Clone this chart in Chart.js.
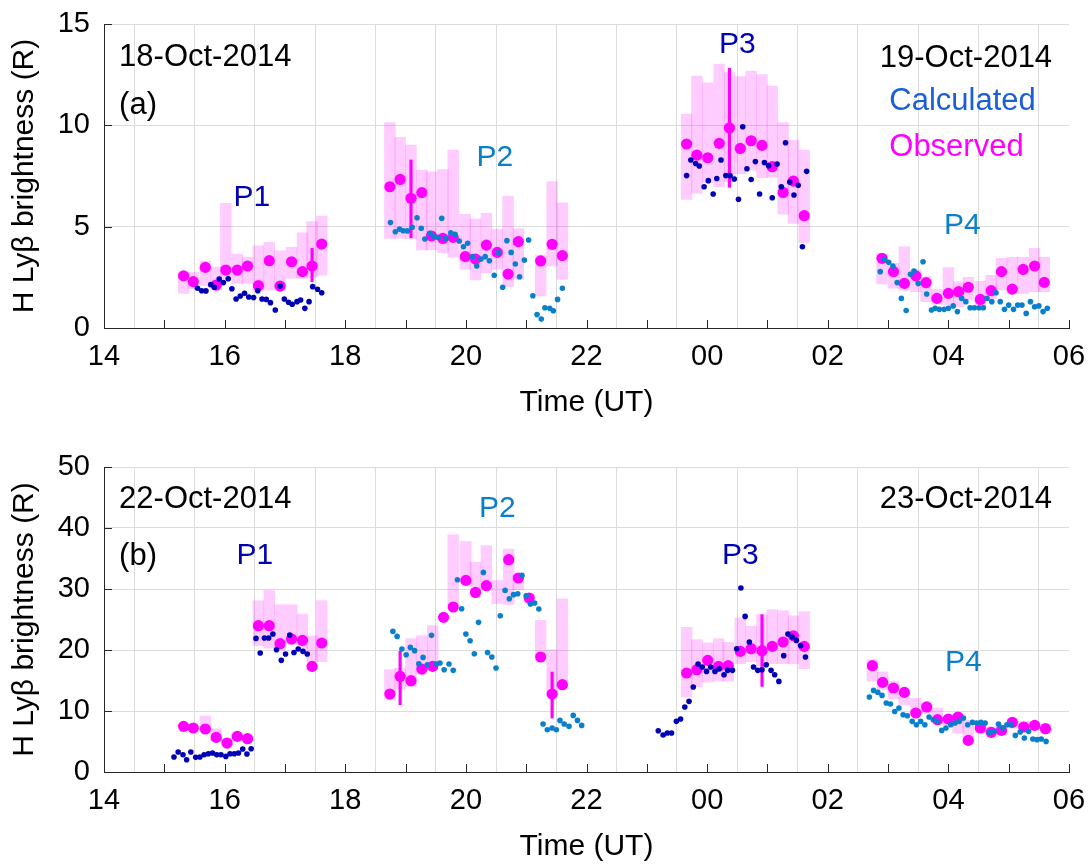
<!DOCTYPE html>
<html>
<head>
<meta charset="utf-8">
<script src="https://cdn.jsdelivr.net/npm/chart.js@4"></script>
<style>
  body { margin: 0; background: #fff; }
  .panel { position: absolute; left: 0; width: 1090px; height: 432px; }
</style>
</head>
<body>
<div class="panel" style="top:0"><canvas id="chart-a" width="1090" height="432"></canvas></div>
<div class="panel" style="top:433px"><canvas id="chart-b" width="1090" height="432"></canvas></div>
<script>
// ===== DATA (time in hours, 24+ = next day) =====

// Panel (a) 18/19-Oct-2014
const a1ObsT = [15.32, 15.48, 15.68, 15.86, 16.02, 16.21, 16.38, 16.56, 16.74, 16.92, 17.11, 17.29, 17.45, 17.61];
const a1ObsV = [2.57, 2.29, 2.99, 2.12, 2.86, 2.86, 3.06, 2.09, 3.32, 2.07, 3.27, 2.78, 3.06, 4.14];
const a1Lo = [1.71, 1.95, 2.1, 1.87, 2.4, 2.2, 2.2, 1.87, 1.87, 1.87, 2.45, 2.45, 2.5, 2.61];
const a1Hi = [2.78, 2.75, 3.3, 3.0, 6.15, 3.65, 3.49, 4.06, 4.23, 3.81, 3.98, 4.70, 5.25, 5.53];
const a1CalcT = [15.55, 15.62, 15.69, 15.77, 15.83, 15.91, 15.98, 16.06, 16.12, 16.19, 16.26, 16.33, 16.40, 16.48, 16.55,
  16.62, 16.69, 16.76, 16.84, 16.92, 16.99, 17.06, 17.12, 17.20, 17.26, 17.33, 17.40, 17.46, 17.54, 17.61];
const a1CalcV = [1.96, 1.84, 1.83, 2.14, 2.01, 2.42, 2.24, 2.43, 1.94, 1.43, 1.58, 1.71, 1.53, 1.50, 1.84,
  1.43, 1.41, 1.25, 0.89, 2.07, 1.43, 1.27, 1.17, 1.30, 1.38, 0.97, 1.30, 2.04, 1.91, 1.74];

const a2ObsT = [18.74, 18.91, 19.09, 19.27, 19.43, 19.62, 19.79, 19.99, 20.16, 20.34, 20.52, 20.70, 20.87, 21.24, 21.43, 21.60];
const a2ObsV = [6.97, 7.33, 6.40, 6.68, 4.54, 4.42, 4.47, 3.52, 3.40, 4.09, 3.73, 2.66, 4.26, 3.31, 4.13, 3.57];
const a2Lo = [4.42, 4.42, 4.4, 3.85, 3.85, 3.72, 3.49, 2.89, 2.37, 2.73, 2.9, 2.04, 2.4, 1.58, 3.06, 2.40];
const a2Hi = [10.13, 9.41, 9.03, 7.79, 7.71, 7.82, 8.78, 5.61, 5.38, 5.66, 4.87, 6.51, 4.9, 3.6, 7.22, 6.18];
const a2CalcT = [18.75, 18.83, 18.90, 18.96, 19.03, 19.11, 19.19, 19.26, 19.32, 19.40, 19.46, 19.54, 19.60, 19.67,
  19.75, 19.82, 19.89, 19.96, 20.03, 20.11, 20.18, 20.25, 20.32, 20.39, 20.47, 20.54, 20.61, 20.68, 20.75, 20.82,
  20.89, 20.97, 21.04, 21.11, 21.18, 21.25, 21.31, 21.39, 21.45, 21.52, 21.60];
const a2CalcV = [5.20, 4.75, 4.88, 4.80, 4.79, 4.97, 5.44, 4.92, 4.39, 4.67, 4.54, 4.47, 5.41, 4.42,
  4.70, 4.62, 4.29, 4.01, 4.18, 3.52, 3.06, 3.40, 3.52, 3.32, 2.60, 3.72, 2.01, 4.31, 3.73, 3.16,
  2.53, 3.35, 4.34, 1.59, 0.66, 0.44, 1.00, 0.97, 0.85, 1.41, 1.96];

const a3ObsT = [23.66, 23.83, 24.01, 24.20, 24.37, 24.55, 24.73, 24.91, 25.08, 25.26, 25.43, 25.61];
const a3ObsV = [9.08, 8.53, 8.40, 9.11, 9.87, 8.86, 9.24, 9.01, 7.96, 6.69, 7.25, 5.54];
const a3Lo = [6.35, 6.64, 7.17, 6.97, 7.22, 7.60, 7.79, 7.42, 7.43, 5.62, 5.16, 4.21];
const a3Hi = [10.56, 12.43, 12.10, 13.02, 12.60, 12.40, 12.68, 12.5, 11.94, 10.13, 9.27, 8.78];
const a3CalcT = [23.66, 23.73, 23.81, 23.87, 23.95, 24.02, 24.10, 24.16, 24.23, 24.31, 24.38, 24.45, 24.52, 24.59,
  24.66, 24.73, 24.80, 24.87, 24.95, 25.02, 25.08, 25.16, 25.23, 25.30, 25.37, 25.44, 25.51, 25.58, 25.65];
const a3CalcV = [7.52, 8.29, 8.12, 7.99, 6.97, 7.27, 6.61, 7.38, 8.29, 7.52, 7.52, 7.35, 6.35, 9.93,
  7.86, 7.33, 8.21, 6.61, 8.16, 8.01, 6.43, 8.09, 6.97, 9.14, 7.20, 6.56, 7.04, 4.01, 7.73];

const a4ObsT = [26.90, 27.09, 27.27, 27.46, 27.63, 27.81, 28.00, 28.17, 28.33, 28.53, 28.71, 28.88, 29.06, 29.24, 29.43, 29.59];
const a4ObsV = [3.44, 2.78, 2.20, 2.57, 2.24, 1.46, 1.71, 1.79, 2.01, 1.41, 1.84, 2.78, 1.92, 2.89, 3.06, 2.25];
const a4Lo = [2.17, 1.96, 1.87, 1.79, 1.30, 1.18, 1.13, 1.05, 1.4, 1.05, 1.45, 1.87, 1.7, 1.7, 1.79, 1.79];
const a4Hi = [3.65, 3.19, 4.01, 2.86, 2.53, 1.91, 2.98, 2.28, 2.5, 2.3, 2.6, 3.44, 3.49, 3.49, 3.93, 3.49];
const a4CalcT = [26.87, 26.94, 27.01, 27.08, 27.15, 27.22, 27.30, 27.37, 27.43, 27.50, 27.58, 27.64, 27.72, 27.78,
  27.85, 27.93, 28.00, 28.08, 28.15, 28.22, 28.29, 28.36, 28.43, 28.51, 28.58, 28.64, 28.72, 28.79, 28.86, 28.93,
  29.00, 29.08, 29.15, 29.22, 29.29, 29.36, 29.43, 29.50, 29.57, 29.64];
const a4CalcV = [2.78, 3.39, 3.24, 3.06, 2.24, 1.46, 0.86, 2.65, 2.81, 2.20, 3.27, 1.68, 0.89, 0.97,
  0.92, 0.92, 0.97, 1.09, 0.81, 1.46, 1.30, 1.00, 1.00, 1.00, 1.00, 1.46, 1.30, 1.74, 1.30, 0.92,
  1.13, 0.92, 1.13, 1.13, 0.72, 1.30, 1.05, 1.09, 0.81, 0.97];

const aErrT = [17.45, 19.09, 24.37];
const aErrLo = [2.29, 4.45, 6.94];
const aErrHi = [3.93, 8.29, 12.81];

// Panel (b) 22/23-Oct-2014
const b1ObsT = [15.32, 15.48, 15.68, 15.86, 16.04, 16.21, 16.38, 16.56, 16.74, 16.92, 17.11, 17.29, 17.45, 17.61];
const b1ObsV = [7.48, 7.21, 7.05, 5.67, 4.75, 5.84, 5.46, 23.98, 23.98, 21.03, 21.8, 21.58, 17.31, 21.15];
const b1Lo = [7.0, 6.9, 6.6, 5.1, 4.3, 5.4, 5.0, 20.7, 20.3, 20.0, 20.9, 20.2, 18.1, 18.1];
const b1Hi = [7.9, 7.6, 9.2, 7.1, 5.4, 6.3, 5.9, 28.08, 29.77, 27.43, 27.43, 25.9, 22.3, 28.1];
const b1CalcT = [15.16, 15.23, 15.31, 15.37, 15.44, 15.52, 15.59, 15.66, 15.73, 15.80, 15.87, 15.94, 16.02, 16.09,
  16.16, 16.23, 16.30, 16.37, 16.44,
  16.52, 16.59, 16.66, 16.73, 16.80, 16.86, 16.94, 17.01, 17.08, 17.15, 17.22, 17.30, 17.37];
const b1CalcV = [2.46, 3.28, 2.84, 2.02, 3.28, 2.40, 2.46, 2.84, 3.00, 3.11, 2.84, 2.84, 2.56, 3.00,
  3.00, 3.11, 3.77, 2.95, 3.82,
  21.9, 19.5, 21.97, 21.97, 22.62, 20.05, 18.3, 19.34, 22.46, 19.6, 20.16, 19.77, 19.34];

const b2ObsT = [18.74, 18.91, 19.09, 19.27, 19.45, 19.63, 19.79, 20.00, 20.16, 20.34, 20.52, 20.71, 20.87, 21.05, 21.24, 21.43, 21.60];
const b2ObsV = [12.79, 15.68, 14.97, 16.88, 17.31, 25.35, 27.05, 31.41, 29.44, 30.54, null, 34.8, 31.8, 28.52, 18.85, 12.79, 14.31];
const b2Lo = [11.85, 13.5, 14.0, 16.2, 17.3, null, 27.15, 31.0, 29.3, 30.7, 27.6, 27.45, 29.9, null, 18.85, 12.8, 14.0];
const b2Hi = [16.77, 17.0, 21.85, 22.34, 24.0, null, 38.9, 37.8, 34.4, 37.1, 31.4, 36.55, 32.3, null, 24.85, 20.05, 28.4];
const b2CalcT = [18.79, 18.86, 18.94, 19.01, 19.08, 19.15, 19.22, 19.29, 19.36, 19.43, 19.51, 19.57, 19.64, 19.72,
  19.79, 19.86, 19.93, 20.00, 20.07, 20.14, 20.21, 20.29, 20.36, 20.43, 20.50, 20.57, 20.65, 20.72, 20.79, 20.86,
  20.93, 21.00, 21.07, 21.14, 21.21, 21.28, 21.35, 21.43, 21.50, 21.56, 21.63, 21.71, 21.78, 21.85, 21.92];
const b2CalcV = [23.05, 22.23, 20.16, 19.23, 20.43, 19.89, 17.75, 18.79, 17.59, 22.4, 17.7, 17.87, 16.77, 17.7,
  16.66, 31.52, 26.77, 22.62, 21.52, 19.39, 24.53, 32.72, 19.6, 18.85, 17.05, 25.62, 29.77, 28.41, 29.07, 29.23,
  32.23, 28.9, 27.54, 27.7, 26.72, 7.87, 6.93, 7.21, 6.93, 8.46, 7.87, 7.48, 9.28, 8.46, 7.64];

const b3ObsT = [23.66, 23.83, 24.01, 24.19, 24.35, 24.55, 24.73, 24.91, 25.08, 25.26, 25.43, 25.61];
const b3ObsV = [16.23, 16.77, 18.3, 17.31, 17.43, 19.77, 20.21, 19.89, 20.59, 21.31, 22.34, 20.59];
const b3Lo = [12.3, 14.0, 14.75, 14.9, 14.9, 17.75, 18.1, 17.4, 17.75, 17.75, 17.75, 16.93];
const b3Hi = [23.7, 21.69, 21.15, 21.85, 21.25, 25.25, 23.9, 25.8, 26.6, 26.45, 25.6, 26.3];
const b3CalcT = [23.19, 23.27, 23.34, 23.41, 23.49, 23.56, 23.63, 23.70, 23.77, 23.85, 23.92, 23.99, 24.06, 24.13,
  24.20, 24.28, 24.34, 24.42, 24.49, 24.56, 24.63, 24.70, 24.77, 24.84, 24.91, 24.98, 25.06, 25.12, 25.19, 25.27,
  25.34, 25.41, 25.48, 25.55, 25.63];
const b3CalcV = [6.77, 6.07, 6.39, 6.39, 8.3, 8.69, 10.66, 11.58, 13.93, 17.7, 17.21, 16.49, 17.21, 16.49,
  16.93, 15.95, 16.66, 16.66, 20.21, 30.16, 25.51, 21.31, 17.21, 16.66, 16.77, 17.59, 16.66, 15.95, 14.85, 19.07,
  22.62, 22.13, 21.57, 20.75, 18.85];

const b4ObsT = [26.74, 26.91, 27.09, 27.27, 27.46, 27.64, 27.82, 28.00, 28.16, 28.33, 28.53, 28.71, 28.88, 29.06, 29.25, 29.43, 29.61];
const b4ObsV = [17.43, 14.69, 13.77, 13.05, 9.67, 10.66, 8.57, 8.69, 9.02, 5.18, 7.21, 6.5, 6.82, 8.13, 7.38, 7.64, 7.1];
const b4Lo = [14.9, 13.5, 12.0, 11.0, 9.4, 9.6, 8.0, 7.7, 6.4, 5.0, 6.4, 5.9, 6.1, 7.2, 6.7, 7.1, 6.4];
const b4Hi = [18.4, 16.4, 14.9, 13.5, 12.1, 11.3, 10.5, 9.1, 9.4, 8.5, 8.0, 7.4, 7.7, 8.7, 8.3, 8.2, 7.8];
const b4CalcT = [26.69, 26.76, 26.83, 26.90, 26.97, 27.04, 27.11, 27.18, 27.25, 27.32, 27.40, 27.47, 27.54, 27.61,
  27.68, 27.75, 27.82, 27.89, 27.96, 28.04, 28.11, 28.18, 28.25, 28.32, 28.40, 28.47, 28.54, 28.61, 28.68, 28.76,
  28.83, 28.90, 28.97, 29.04, 29.11, 29.19, 29.26, 29.33, 29.40, 29.47, 29.54, 29.62];
const b4CalcV = [12.3, 13.38, 13.05, 12.56, 11.31, 11.15, 9.93, 10.49, 9.39, 9.23, 8.3, 7.75, 8.3, 7.75,
  9.02, 8.57, 8.3, 6.82, 7.21, 7.75, 8.03, 8.3, 8.85, 7.75, 8.13, 8.03, 8.13, 8.03, 6.5, 6.66,
  7.87, 7.21, 7.75, 7.75, 6.0, 6.56, 5.57, 6.66, 5.41, 5.3, 5.41, 5.02];

const bErrT = [18.91, 21.43, 24.91];
const bErrLo = [11.03, 8.85, 14.03];
const bErrHi = [19.78, 16.39, 25.79];

const xTicks = [14, 16, 18, 20, 22, 24, 26, 28, 30];

// ===== STYLE =====
const FONT = '"Liberation Sans", Arial, Helvetica, sans-serif';
const MAG = '#ff00ff';
const PINK = 'rgba(255, 0, 255, 0.2)';
const DARK = '#0000b4';
const LIGHT = '#0a80cc';
const AXIS = '#262626';
const GRID = '#dcdcdc';

Chart.defaults.font.family = FONT;
Chart.defaults.color = '#000';

const pts = (ts, vs) => ts.map((t, i) => ({ x: t, y: vs[i] })).filter(p => p.y != null);
const ranges = (ts, lo, hi) => ts.map((t, i) => ({ x: t, y: [lo[i], hi[i]] })).filter(p => p.y[0] != null);

// inward tick marks like the original axes
const inwardTicks = {
  id: 'inwardTicks',
  afterDraw(chart) {
    const { ctx, chartArea: a, scales } = chart;
    ctx.save();
    ctx.strokeStyle = AXIS;
    ctx.lineWidth = 1;
    ctx.beginPath();
    for (const t of scales.x.ticks) {
      const px = Math.round(scales.x.getPixelForValue(t.value)) + 0.5;
      ctx.moveTo(px, a.bottom);
      ctx.lineTo(px, a.bottom - 8);
    }
    for (const t of scales.y.ticks) {
      const py = Math.round(scales.y.getPixelForValue(t.value)) + 0.5;
      ctx.moveTo(a.left, py);
      ctx.lineTo(a.left + 8, py);
    }
    ctx.stroke();
    ctx.restore();
  }
};

// text annotations placed in data coordinates
const notes = {
  id: 'notes',
  afterDraw(chart, args, opts) {
    const { ctx, scales } = chart;
    ctx.save();
    ctx.textBaseline = 'middle';
    for (const n of opts.items || []) {
      ctx.font = `${n.size || 31}px ${FONT}`;
      ctx.fillStyle = n.color || '#000';
      ctx.textAlign = n.align || 'center';
      ctx.fillText(n.text, scales.x.getPixelForValue(n.x), scales.y.getPixelForValue(n.y));
    }
    ctx.restore();
  }
};

function makePanel(id, p) {
  const ctx = document.getElementById(id).getContext('2d');
  return new Chart(ctx, {
    type: 'scatter',
    data: {
      datasets: [
        { type: 'bar', data: p.bars, backgroundColor: PINK, borderWidth: 0, barThickness: 10.8, grouped: false, order: 5 },
        { type: 'bar', data: p.errs, backgroundColor: MAG, borderWidth: 0, barThickness: 2.5, grouped: false, order: 2 },
        { data: p.obs, pointRadius: 5.6, pointBackgroundColor: MAG, pointBorderWidth: 0, order: 3 },
        { data: p.dark, pointRadius: 2.8, pointBackgroundColor: DARK, pointBorderWidth: 0, order: 1 },
        { data: p.light, pointRadius: 2.8, pointBackgroundColor: LIGHT, pointBorderWidth: 0, order: 1 }
      ]
    },
    options: {
      responsive: false,
      devicePixelRatio: 1,
      animation: false,
      layout: { padding: { top: p.padTop, right: 21, left: 0, bottom: 0 } },
      plugins: {
        legend: { display: false },
        tooltip: { enabled: false },
        notes: { items: p.notes }
      },
      scales: {
        x: {
          type: 'linear',
          min: 14,
          max: 30,
          offset: false,
          afterFit(s) {
            s.height = p.xHeight;
            s.paddingLeft = 0;
            s.paddingRight = 0;
          },
          grid: { color: GRID, drawTicks: false },
          border: { color: AXIS, width: 1 },
          ticks: {
            stepSize: 1,
            autoSkip: false,
            maxRotation: 0,
            padding: 12,
            font: { size: 29 },
            callback: v => xTicks.includes(v) ? String(v % 24).padStart(2, '0') : ''
          },
          title: { display: true, text: 'Time (UT)', font: { size: 30 }, padding: { top: 0, bottom: p.titlePad } }
        },
        y: {
          min: 0,
          max: p.yMax,
          afterFit(s) {
            s.width = 104;
            s.paddingTop = 0;
            s.paddingBottom = 0;
          },
          grid: { color: GRID, drawTicks: false },
          border: { color: AXIS, width: 1 },
          ticks: { stepSize: p.yStep, padding: 14, font: { size: 29 } },
          title: { display: true, text: 'H Ly\u03b2 brightness (R)', font: { size: 30 }, padding: { top: 7, bottom: 0 } }
        }
      }
    },
    plugins: [inwardTicks, notes]
  });
}

makePanel('chart-a', {
  yMax: 15, yStep: 5, padTop: 24, xHeight: 104, titlePad: 11,
  bars: [...ranges(a1ObsT, a1Lo, a1Hi), ...ranges(a2ObsT, a2Lo, a2Hi), ...ranges(a3ObsT, a3Lo, a3Hi), ...ranges(a4ObsT, a4Lo, a4Hi)],
  errs: ranges(aErrT, aErrLo, aErrHi),
  obs: [...pts(a1ObsT, a1ObsV), ...pts(a2ObsT, a2ObsV), ...pts(a3ObsT, a3ObsV), ...pts(a4ObsT, a4ObsV)],
  dark: [...pts(a1CalcT, a1CalcV), ...pts(a3CalcT, a3CalcV)],
  light: [...pts(a2CalcT, a2CalcV), ...pts(a4CalcT, a4CalcV)],
  notes: [
    { text: '18-Oct-2014', x: 14.25, y: 13.37, align: 'left' },
    { text: '(a)', x: 14.25, y: 11.0, align: 'left' },
    { text: '19-Oct-2014', x: 29.72, y: 13.3, align: 'right' },
    { text: 'Calculated', x: 27.02, y: 11.2, align: 'left', color: '#1a5fd8' },
    { text: 'Observed', x: 27.02, y: 8.93, align: 'left', color: MAG },
    { text: 'P1', x: 16.45, y: 6.41, color: DARK, size: 30 },
    { text: 'P2', x: 20.48, y: 8.39, color: LIGHT, size: 30 },
    { text: 'P3', x: 24.5, y: 14.0, color: DARK, size: 30 },
    { text: 'P4', x: 28.23, y: 5.03, color: LIGHT, size: 30 }
  ]
});

makePanel('chart-b', {
  yMax: 50, yStep: 10, padTop: 34, xHeight: 93, titlePad: 0,
  bars: [...ranges(b1ObsT, b1Lo, b1Hi), ...ranges(b2ObsT, b2Lo, b2Hi), ...ranges(b3ObsT, b3Lo, b3Hi), ...ranges(b4ObsT, b4Lo, b4Hi)],
  errs: ranges(bErrT, bErrLo, bErrHi),
  obs: [...pts(b1ObsT, b1ObsV), ...pts(b2ObsT, b2ObsV), ...pts(b3ObsT, b3ObsV), ...pts(b4ObsT, b4ObsV)],
  dark: [...pts(b1CalcT, b1CalcV), ...pts(b3CalcT, b3CalcV)],
  light: [...pts(b2CalcT, b2CalcV), ...pts(b4CalcT, b4CalcV)],
  notes: [
    { text: '22-Oct-2014', x: 14.25, y: 44.6, align: 'left' },
    { text: '(b)', x: 14.25, y: 35.3, align: 'left' },
    { text: '23-Oct-2014', x: 29.72, y: 44.6, align: 'right' },
    { text: 'P1', x: 16.5, y: 35.4, color: DARK, size: 30 },
    { text: 'P2', x: 20.52, y: 43.1, color: LIGHT, size: 30 },
    { text: 'P3', x: 24.55, y: 35.4, color: DARK, size: 30 },
    { text: 'P4', x: 28.25, y: 17.9, color: LIGHT, size: 30 }
  ]
});
</script>
</body>
</html>
